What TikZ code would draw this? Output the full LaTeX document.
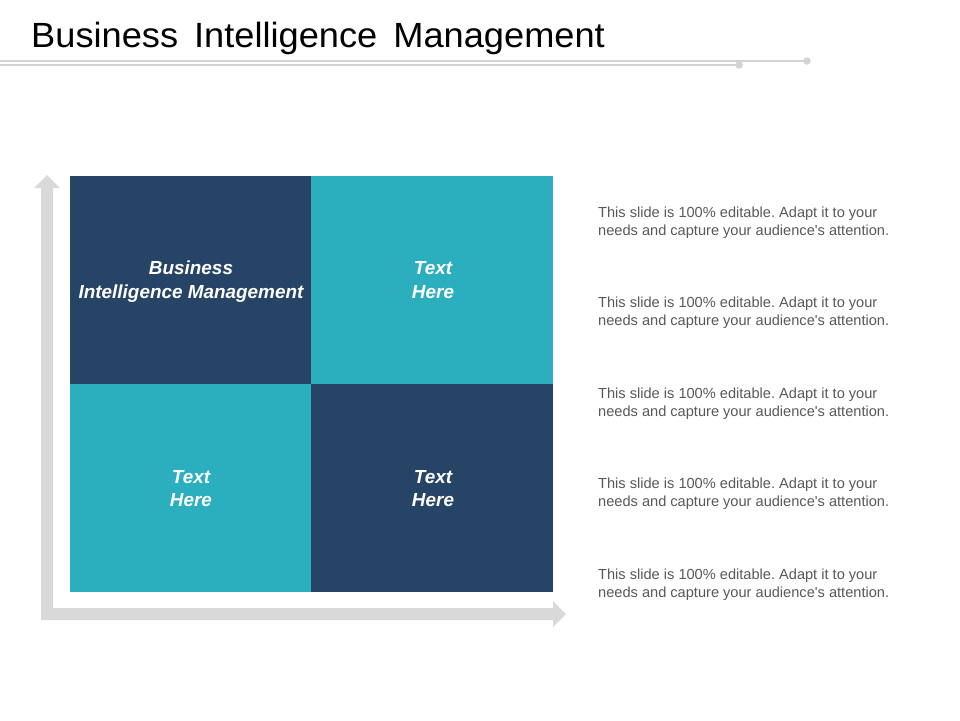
\documentclass[tikz,border=0pt]{standalone}
\usepackage{fontspec}
\setmainfont{Liberation Sans}
\newfontfamily\titlefont{Liberation Sans}[FakeStretch=1.035]
\definecolor{navy}{HTML}{264466}
\definecolor{teal}{HTML}{2BAFBF}
\definecolor{axisgray}{HTML}{D9D9D9}
\definecolor{rulegray}{HTML}{D3D3D3}
\definecolor{bodygray}{HTML}{595959}
\begin{document}
\frenchspacing
\begin{tikzpicture}[x=1pt,y=-1pt,
  cell/.style={draw=none,inner sep=0pt,minimum height=208pt,anchor=north west},
  celltext/.style={text=white,font=\fontsize{18.9}{22}\selectfont\bfseries\itshape,anchor=base,inner sep=0pt},
  bodytext/.style={text=bodygray,font=\fontsize{14.6}{17}\selectfont,anchor=base west,inner sep=0pt},
  rule/.style={draw=rulegray,line width=2pt},
  ruledot/.style={circle,fill=rulegray,inner sep=0pt,minimum size=7.5pt}]
\useasboundingbox (0,0) rectangle (960,720);
\fill[white] (0,0) rectangle (960,720);
% title
\node[anchor=base west,inner sep=0pt,font=\titlefont\fontsize{35}{40}\selectfont] (title) at (31,47.5) {\spaceskip=16pt Business Intelligence Management};
% rules
\node[ruledot] (d1) at (807,61) {};
\node[ruledot] (d2) at (739,65) {};
\coordinate (l1) at (0,61);
\coordinate (l2) at (0,65);
\draw[rule] (l1) -- (d1.center);
\draw[rule] (l2) -- (d2.center);
% axes
\fill[axisgray] (34,188) -- (47,175) -- (60,188) -- (53,188) -- (53,608) -- (553,608) -- (553,601) -- (566,614) -- (553,627) -- (553,620) -- (41,620) -- (41,188) -- cycle;
% cells
\node[cell,fill=navy,minimum width=241pt] (c11) at (70,176) {};
\node[cell,fill=teal,minimum width=242pt] (c12) at (311,176) {};
\node[cell,fill=teal,minimum width=241pt] (c21) at (70,384) {};
\node[cell,fill=navy,minimum width=242pt] (c22) at (311,384) {};
% cell texts
\node[celltext] (t11a) at (191,274.5) {Business};
\node[celltext] (t11b) at (191,298) {Intelligence Management};
\node[celltext] (t12a) at (433,274.5) {Text};
\node[celltext] (t12b) at (433,298) {Here};
\node[celltext] (t21a) at (191,483) {Text};
\node[celltext] (t21b) at (191,506.5) {Here};
\node[celltext] (t22a) at (433,483) {Text};
\node[celltext] (t22b) at (433,506.5) {Here};
% body texts
\foreach \i/\y in {1/217,2/307.5,3/398,4/488.5,5/579}{
  \node[bodytext] (p\i a) at (598,\y) {This slide is 100\% editable. Adapt it to your};
  \node[bodytext] (p\i b) at (598,\y+18.3) {needs and capture your audience\textquotesingle s attention.};
}
\end{tikzpicture}
\end{document}
